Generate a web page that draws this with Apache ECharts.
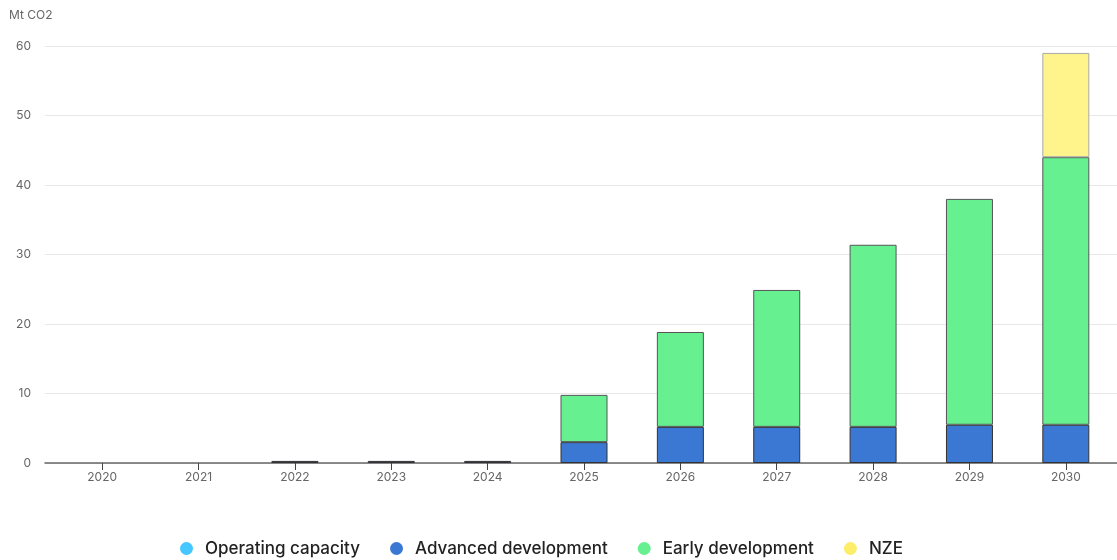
<!DOCTYPE html>
<html>
<head>
<meta charset="utf-8">
<script src="https://cdn.jsdelivr.net/npm/echarts@6/dist/echarts.min.js"></script>
<style>
html, body { margin: 0; padding: 0; background: #fff; }
#chart { width: 1117px; height: 560px; }
</style>
</head>
<body>
<div id="chart"></div>
<script>
var years = ['2020', '2021', '2022', '2023', '2024', '2025', '2026', '2027', '2028', '2029', '2030'];
var operating = [0, 0, 0, 0, 0, 0, 0, 0, 0, 0, 0];
var advanced = [0, 0, 0.3, 0.3, 0.3, 3.0, 5.2, 5.2, 5.2, 5.5, 5.5];
var early = [0, 0, 0, 0, 0, 6.8, 13.65, 19.7, 26.2, 32.5, 38.5];
var nze = [0, 0, 0, 0, 0, 0, 0, 0, 0, 0, 15.0];
var yTicks = [0, 10, 20, 30, 40, 50, 60];

var chart = echarts.init(document.getElementById('chart'));

function barSeries(name, vals, color, border) {
	return {
		name: name,
		type: 'bar',
		stack: 'total',
		xAxisIndex: 1,
		yAxisIndex: 1,
		barWidth: 47,
		// empty stacks draw nothing (no border line on the baseline)
		data: vals.map(function (v) { return v === 0 ? '-' : v; }),
		itemStyle: {
			color: color,
			borderColor: border,
			borderWidth: 1
		},
		emphasis: { disabled: true }
	};
}

var yMin = yTicks[0];
var yMax = yTicks[yTicks.length - 1];

var option = {
	animation: false,
	textStyle: { fontFamily: 'Inter, "Noto Sans", sans-serif' },
	// grid 0: gridlines and the axis line, grid 1: the bars
	grid: [
		{ left: 45, right: 0, top: 46, bottom: 97 },
		{ left: 54, right: 3, top: 46, bottom: 97 }
	],
	legend: {
		bottom: -2,
		left: 175,
		icon: 'circle',
		itemWidth: 13,
		itemHeight: 13,
		itemGap: 30,
		itemStyle: { borderWidth: 0 },
		textStyle: { fontSize: 17, color: '#222', fontWeight: 500, padding: [0, 0, 0, 7] },
		data: [
			{ name: 'Operating capacity', itemStyle: { color: '#45c8ff' } },
			{ name: 'Advanced development', itemStyle: { color: '#3b78d4' } },
			{ name: 'Early development', itemStyle: { color: '#66f090' } },
			{ name: 'NZE', itemStyle: { color: '#fdee6a' } }
		]
	},
	xAxis: [{
		gridIndex: 0,
		type: 'value',
		min: 0,
		max: 1,
		splitLine: { show: false },
		axisLine: { show: true, onZero: false, lineStyle: { color: '#666', width: 1.5 } },
		axisTick: { show: false },
		axisLabel: { show: false }
	}, {
		gridIndex: 1,
		type: 'category',
		data: years,
		axisLine: { show: false },
		axisTick: { show: true, alignWithLabel: true, length: 7, lineStyle: { color: '#444' } },
		axisLabel: { color: '#666', fontSize: 12, margin: 8 }
	}],
	yAxis: [{
		gridIndex: 0,
		type: 'value',
		min: yMin,
		max: yMax,
		interval: 10,
		name: 'Mt CO2',
		nameLocation: 'end',
		nameGap: 25,
		nameTextStyle: { color: '#666', fontSize: 12, align: 'left', padding: [0, 0, 0, -36] },
		axisLine: { show: false },
		axisTick: { show: false },
		axisLabel: { color: '#666', fontSize: 12, margin: 14 },
		splitLine: { lineStyle: { color: '#e8e8e8' } }
	}, {
		gridIndex: 1,
		type: 'value',
		min: yMin,
		max: yMax,
		interval: 10,
		show: false
	}],
	series: [
		barSeries('Operating capacity', operating, '#45c8ff', '#555'),
		barSeries('Advanced development', advanced, '#3b78d4', '#333'),
		barSeries('Early development', early, '#66f090', '#555'),
		barSeries('NZE', nze, '#fff38c', '#aaa')
	]
};

chart.setOption(option);
</script>
</body>
</html>
